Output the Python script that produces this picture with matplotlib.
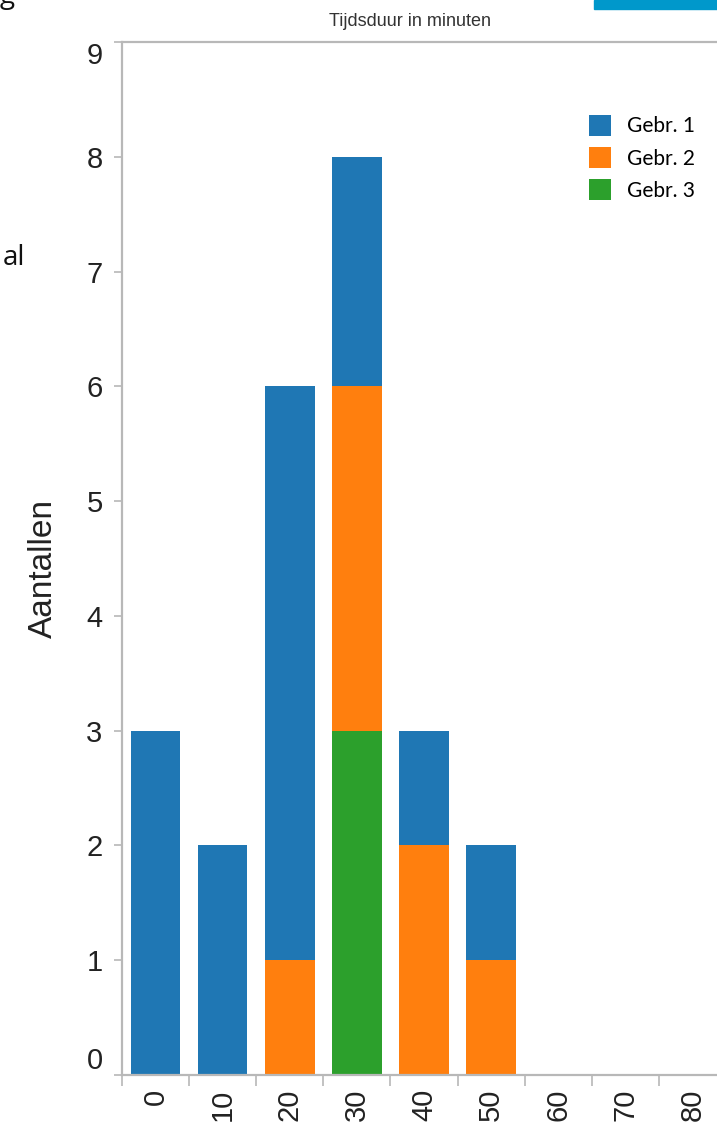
import matplotlib
matplotlib.use("Agg")
import matplotlib.pyplot as plt
from matplotlib.patches import Rectangle
import numpy as np

# data
categories = ["0", "10", "20", "30", "40", "50", "60", "70", "80"]
gebr3 = [0, 0, 0, 3, 0, 0, 0, 0, 0]
gebr2 = [0, 0, 1, 3, 2, 1, 0, 0, 0]
gebr1 = [3, 2, 5, 2, 1, 1, 0, 0, 0]
series_labels = ["Gebr. 1", "Gebr. 2", "Gebr. 3"]
yticks = list(range(10))

c1, c2, c3 = "#1f77b4", "#ff7f0e", "#2ca02c"
grey = "#b8b8b8"

plt.rcParams["font.family"] = ["Liberation Sans", "DejaVu Sans"]

W, H = 717, 1126
fig = plt.figure(figsize=(W / 100, H / 100), dpi=100)
# axes runs past the right edge: the reference is a cropped screenshot
ax = fig.add_axes([122 / W, (H - 1075) / H, 604 / W, (1075 - 42) / H])

x = np.arange(len(categories))
b3 = np.array(gebr3)
b2 = np.array(gebr2)
b1 = np.array(gebr1)
bw = 0.74
ax.bar(x, b3, bw, color=c3, label=series_labels[2])
ax.bar(x, b2, bw, bottom=b3, color=c2, label=series_labels[1])
ax.bar(x, b1, bw, bottom=b3 + b2, color=c1, label=series_labels[0])

ax.set_xlim(-0.5, len(categories) - 0.5)
ax.set_ylim(0, 9)

# labels at category centres, tick marks on the boundaries
ax.set_xticks(x)
ax.set_xticklabels(categories, rotation=90, fontsize=21, color="#222222")
ax.tick_params(axis="x", which="major", length=0, pad=10)
ax.set_xticks(np.arange(len(categories) + 1) - 0.5, minor=True)
ax.tick_params(axis="x", which="minor", length=8, color=grey, width=1.2)

ax.set_yticks(yticks)
ax.set_yticklabels([str(v) for v in yticks], fontsize=21, color="#222222")
ax.tick_params(axis="y", length=6, color=grey, width=1.2, pad=8)
ylabs = ax.get_yticklabels()
ylabs[0].set_va("bottom")
ylabs[-1].set_va("top")

for s in ("left", "bottom", "top"):
    ax.spines[s].set_color(grey)
    ax.spines[s].set_linewidth(1.6)
ax.spines["right"].set_visible(False)

ax.set_ylabel("Aantallen", fontsize=24, color="#222222")
ax.yaxis.set_label_coords(-0.105, 0.49)

handles, labels = ax.get_legend_handles_labels()
ax.legend(handles[::-1], labels[::-1], loc="upper left",
          bbox_to_anchor=(570 / W, (H - 96) / H), bbox_transform=fig.transFigure,
          frameon=False, handlelength=1.05, handleheight=1.2,
          labelspacing=0.5, handletextpad=0.8,
          prop={"family": ["Lato", "DejaVu Sans"], "size": 15})

fig.text(410 / W, (H - 21) / H, "Tijdsduur in minuten", ha="center", va="center",
         fontsize=13, color="#333333")

# leftovers of the surrounding page in the screenshot
fig.text(3 / W, (H - 258) / H, "al", ha="left", va="center", fontsize=20,
         color="#111111", family=["Open Sans", "DejaVu Sans"])
fig.text(0, (H - 3) / H, "g", ha="left", va="baseline", fontsize=20,
         color="#111111", family=["Open Sans", "DejaVu Sans"])
fig.patches.append(Rectangle((594 / W, (H - 9) / H), 123 / W, 9 / H,
                             transform=fig.transFigure, color="#0098cb"))

fig.savefig("out.png", dpi=100)
